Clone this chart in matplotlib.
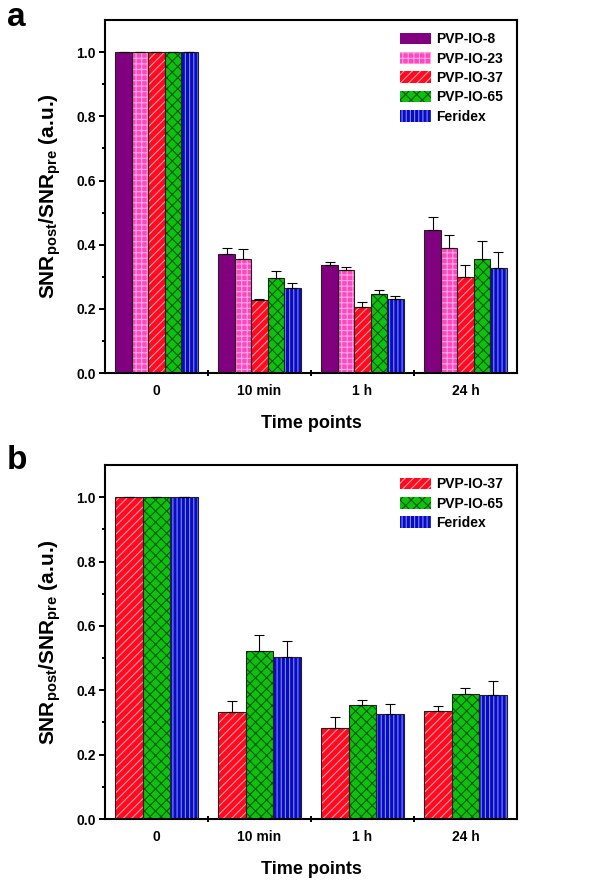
import numpy as np
import matplotlib
matplotlib.use("Agg")
import matplotlib.pyplot as plt

plt.rcParams['font.family'] = ['Liberation Sans', 'DejaVu Sans']
plt.rcParams['font.weight'] = 'bold'
plt.rcParams['mathtext.fontset'] = 'custom'
plt.rcParams['mathtext.bf'] = 'Liberation Sans:bold'
plt.rcParams['mathtext.rm'] = 'Liberation Sans:bold'
plt.rcParams['hatch.linewidth'] = 0.8

# data
time_points = ['0', '10 min', '1 h', '24 h']

names_a = ['PVP-IO-8', 'PVP-IO-23', 'PVP-IO-37', 'PVP-IO-65', 'Feridex']
vals_a = [
    [1.0, 0.372, 0.336, 0.445],
    [1.0, 0.356, 0.321, 0.390],
    [1.0, 0.228, 0.207, 0.298],
    [1.0, 0.297, 0.247, 0.354],
    [1.0, 0.266, 0.232, 0.328],
]
errs_a = [
    [0.0, 0.019, 0.010, 0.040],
    [0.0, 0.031, 0.011, 0.041],
    [0.0, 0.002, 0.014, 0.039],
    [0.0, 0.021, 0.013, 0.059],
    [0.0, 0.014, 0.008, 0.050],
]

names_b = ['PVP-IO-37', 'PVP-IO-65', 'Feridex']
vals_b = [
    [1.0, 0.334, 0.282, 0.337],
    [1.0, 0.523, 0.354, 0.390],
    [1.0, 0.504, 0.326, 0.385],
]
errs_b = [
    [0.0, 0.033, 0.036, 0.013],
    [0.0, 0.050, 0.017, 0.017],
    [0.0, 0.049, 0.031, 0.045],
]

# style per series: facecolor, hatch, hatch colour
styles = {
    'PVP-IO-8': ('#800080', '', '#800080'),
    'PVP-IO-23': ('#ff48c0', '+++', '#ffa8e4'),
    'PVP-IO-37': ('#ff0a1e', '////', '#ff9aa8'),
    'PVP-IO-65': ('#10c010', 'xxx', '#005a00'),
    'Feridex': ('#0a0ac0', '||||', '#7a8aff'),
}


def draw_panel(ax, names, vals, errs):
    x = np.arange(len(time_points))
    n = len(names)
    w = 0.8 / n
    handles = []
    for i, name in enumerate(names):
        fc, hatch, hc = styles[name]
        pos = x - 0.4 + w * (i + 0.5)
        ax.bar(pos, vals[i], w, color=fc, edgecolor=hc, hatch=hatch, linewidth=0, zorder=2)
        ax.bar(pos, vals[i], w, fill=False, edgecolor='#222222', linewidth=0.8, zorder=3)
        ax.errorbar(pos, vals[i], yerr=[np.zeros(len(x)), errs[i]], fmt='none',
                    ecolor='black', elinewidth=0.8, capsize=3.5, capthick=0.8, zorder=4)
        h = plt.Rectangle((0, 0), 1, 1, facecolor=fc, edgecolor=hc, hatch=hatch, linewidth=0)
        handles.append(h)
    ax.legend(handles, names, loc='upper right', frameon=False, fontsize=10,
              handlelength=2.2, handleheight=0.9, handletextpad=0.35,
              labelspacing=0.38, borderaxespad=0, borderpad=0,
              bbox_to_anchor=(0.965, 0.965))
    ax.set_xlim(-0.5, 3.5)
    ax.set_ylim(0, 1.1)
    ax.set_xticks(x)
    ax.set_xticklabels(time_points)
    ax.set_xticks([0.5, 1.5, 2.5], minor=True)
    ax.tick_params(axis='x', which='major', length=0, labelsize=10, pad=8)
    ax.tick_params(axis='x', which='minor', length=5, width=1.4, direction='inout')
    ax.set_yticks(np.arange(0, 1.01, 0.2))
    ax.set_yticklabels(['%.1f' % v for v in np.arange(0, 1.01, 0.2)])
    ax.set_yticks(np.arange(0.1, 1.1, 0.2), minor=True)
    ax.tick_params(axis='y', which='major', length=4.5, width=1.4, labelsize=10, pad=2)
    ax.tick_params(axis='y', which='minor', length=2.5, width=1.4)
    for s in ax.spines.values():
        s.set_linewidth(1.5)
    ax.set_xlabel('Time points', fontsize=13, fontweight='bold', labelpad=12)
    ax.set_ylabel(r'SNR$_{\mathbf{post}}$/SNR$_{\mathbf{pre}}$ (a.u.)', fontsize=15,
                  fontweight='bold', labelpad=10)


fig = plt.figure(figsize=(6.02, 8.84), dpi=100)
ax1 = fig.add_axes([0.1744, 0.578, 0.6844, 0.3993])
ax2 = fig.add_axes([0.1744, 0.0735, 0.6844, 0.4005])
draw_panel(ax1, names_a, vals_a, errs_a)
draw_panel(ax2, names_b, vals_b, errs_b)
fig.text(0.012, 0.98, 'a', fontsize=24, fontweight='bold', va='center')
fig.text(0.012, 0.479, 'b', fontsize=24, fontweight='bold', va='center')

fig.savefig('out.png', dpi=100)
